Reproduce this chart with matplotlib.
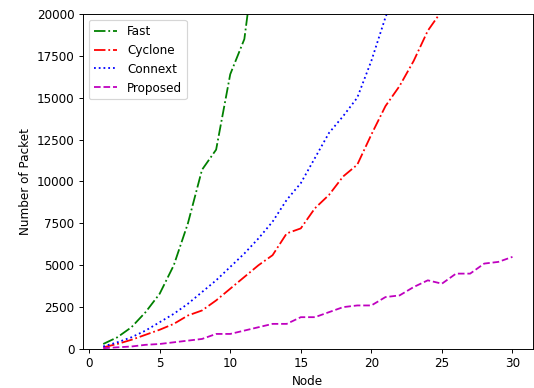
import matplotlib
matplotlib.use('Agg')
import matplotlib.pyplot as plt

# valeurs
nodes = list(range(1, 31))
fast = [300, 700, 1300, 2200, 3300, 5000, 7500, 10700, 11900, 16400, 18500, 25000]
cyclone = [100, 300, 550, 850, 1150, 1500, 2000, 2300, 2900, 3600, 4300, 5000, 5600,
           6900, 7200, 8400, 9200, 10300, 11000, 12800, 14500, 15700, 17200, 19000, 20200]
connext = [150, 400, 700, 1100, 1600, 2100, 2700, 3400, 4100, 4900, 5700, 6600, 7600,
           8900, 9900, 11400, 12900, 13900, 15000, 17200, 19800, 22000]
proposed = [50, 100, 150, 250, 300, 400, 500, 600, 900, 900, 1100, 1300, 1500, 1500, 1900,
            1900, 2200, 2500, 2600, 2600, 3100, 3200, 3700, 4100, 3900, 4500, 4500, 5100,
            5200, 5500]

# image réduite (~0.86) : on joue sur le dpi
dpi = 86
fig = plt.figure(figsize=(534 / dpi, 388 / dpi), dpi=dpi)
ax = fig.add_axes([0.155, 0.1005, 0.843, 0.8635])

ax.plot(nodes[:len(fast)], fast, 'g-.', label='Fast')
ax.plot(nodes[:len(cyclone)], cyclone, 'r-.', label='Cyclone')
ax.plot(nodes[:len(connext)], connext, 'b:', label='Connext')
ax.plot(nodes, proposed, 'm--', label='Proposed')

ax.set_xlim(-0.45, 31.45)
ax.set_ylim(0, 20000)
ax.set_xlabel('Node')
ax.set_ylabel('Number of Packet')
ax.legend(loc='upper left')

fig.savefig('out.png', dpi=dpi)
